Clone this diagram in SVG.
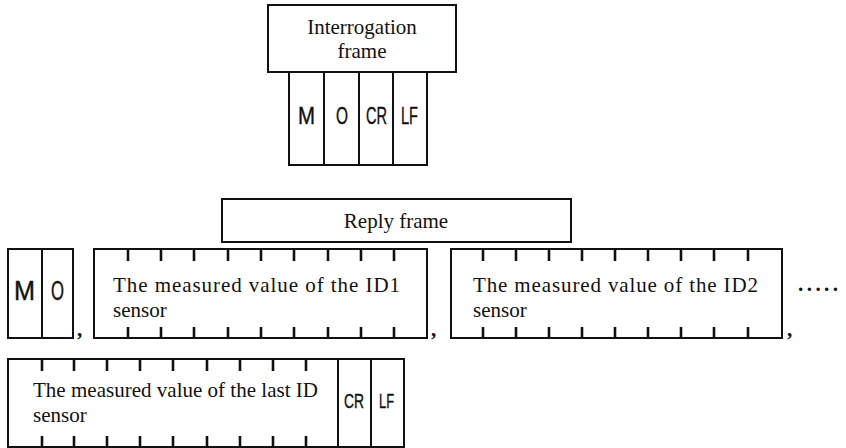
<svg xmlns="http://www.w3.org/2000/svg" width="846" height="448" viewBox="0 0 846 448">
<style>
.box{fill:#fff;stroke:#111;stroke-width:2}
.tick{stroke:#111;stroke-width:2.6}
.serif{font-family:"Liberation Serif","Times New Roman",serif;fill:#111;font-size:21px}
.sans{font-family:"Liberation Sans",Arial,sans-serif;fill:#111;stroke:#111;stroke-width:0.4}
</style>
<rect width="846" height="448" fill="#fff"/>
<g id="interrogation">
<rect class="box" x="268" y="5" width="188" height="67"/>
<text class="serif" x="362" y="34" text-anchor="middle">Interrogation</text>
<text class="serif" x="362" y="58" text-anchor="middle">frame</text>
</g>
<g id="int-cells">
<rect class="box" x="289" y="72" width="35" height="93"/>
<rect class="box" x="324" y="72" width="35" height="93"/>
<rect class="box" x="359" y="72" width="34" height="93"/>
<rect class="box" x="393" y="72" width="34" height="93"/>
<text class="sans" x="298" y="124" font-size="23" textLength="17" lengthAdjust="spacingAndGlyphs">M</text>
<text class="sans" x="336" y="124" font-size="23" textLength="12" lengthAdjust="spacingAndGlyphs">O</text>
<text class="sans" x="366" y="124" font-size="23" textLength="21" lengthAdjust="spacingAndGlyphs">CR</text>
<text class="sans" x="401" y="124" font-size="23" textLength="17" lengthAdjust="spacingAndGlyphs">LF</text>
</g>
<g id="reply">
<rect class="box" x="222" y="199" width="349" height="43"/>
<text class="serif" x="396" y="228" text-anchor="middle">Reply frame</text>
</g>
<g id="mo">
<rect class="box" x="8" y="249" width="34" height="89"/>
<rect class="box" x="42" y="249" width="31" height="89"/>
<text class="sans" x="14" y="300" font-size="27" textLength="21" lengthAdjust="spacingAndGlyphs">M</text>
<text class="sans" x="51" y="300" font-size="27" textLength="13" lengthAdjust="spacingAndGlyphs">O</text>
</g>
<g id="id1">
<rect class="box" x="94" y="249" width="333" height="89"/>
<path class="tick" d="M128 249v12M161 249v12M194 249v12M228 249v12M261 249v12M294 249v12M328 249v12M361 249v12M394 249v12M128 338v-11M161 338v-11M194 338v-11M228 338v-11M261 338v-11M294 338v-11M328 338v-11M361 338v-11M394 338v-11"/>
<text class="serif" x="113" y="292" textLength="287" lengthAdjust="spacing">The measured value of the ID1</text>
<text class="serif" x="113" y="317">sensor</text>
</g>
<g id="id2">
<rect class="box" x="451" y="249" width="331" height="89"/>
<path class="tick" d="M483 249v12M516 249v12M549 249v12M582 249v12M615 249v12M648 249v12M681 249v12M714 249v12M748 249v12M483 338v-11M516 338v-11M549 338v-11M582 338v-11M615 338v-11M648 338v-11M681 338v-11M714 338v-11M748 338v-11"/>
<text class="serif" x="473" y="292" textLength="285" lengthAdjust="spacing">The measured value of the ID2</text>
<text class="serif" x="473" y="317">sensor</text>
</g>
<g id="last">
<rect class="box" x="8" y="359" width="330" height="88"/>
<path class="tick" d="M42 359v12M74 359v12M107 359v12M140 359v12M173 359v12M207 359v12M240 359v12M273 359v12M306 359v12M42 447v-11M74 447v-11M107 447v-11M140 447v-11M173 447v-11M207 447v-11M240 447v-11M273 447v-11M306 447v-11"/>
<text class="serif" x="33" y="397" textLength="285" lengthAdjust="spacing">The measured value of the last ID</text>
<text class="serif" x="33" y="422">sensor</text>
<rect class="box" x="338" y="359" width="33" height="88"/>
<rect class="box" x="371" y="359" width="33" height="88"/>
<text class="sans" x="344" y="408" font-size="21" textLength="20" lengthAdjust="spacingAndGlyphs">CR</text>
<text class="sans" x="379" y="408" font-size="21" textLength="15" lengthAdjust="spacingAndGlyphs">LF</text>
</g>
<g id="separators">
<text class="serif" x="77" y="336" font-weight="bold">,</text>
<text class="serif" x="431" y="336" font-weight="bold">,</text>
<text class="serif" x="787" y="336" font-weight="bold">,</text>
<text class="serif" x="798" y="291" font-weight="bold" textLength="40" lengthAdjust="spacing">.....</text>
</g>
</svg>
